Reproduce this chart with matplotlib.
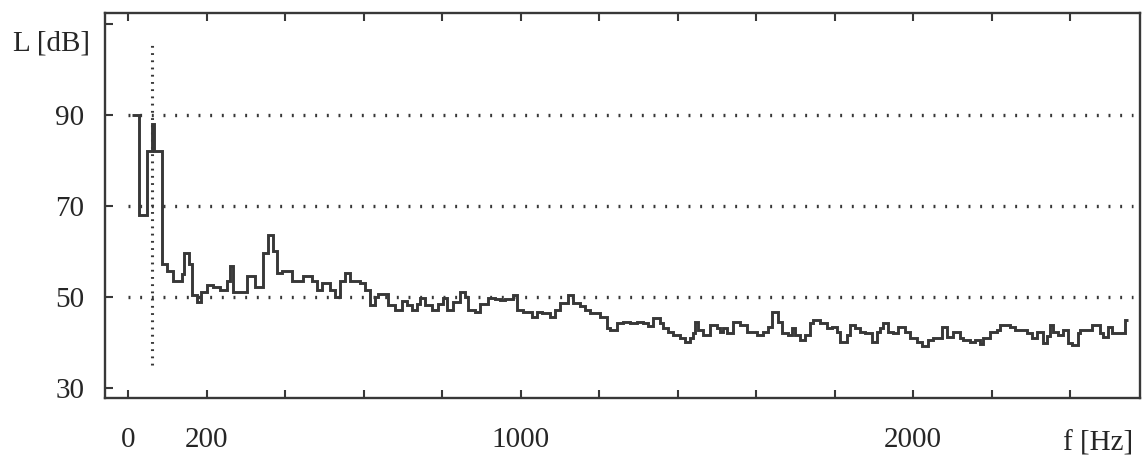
import numpy as np
import matplotlib
matplotlib.use("Agg")
import matplotlib.pyplot as plt

# step spectrum: start frequency of each run [Hz] and its level [dB]
run_start_hz = [
    10, 28, 48, 61, 66, 87, 99, 115, 138, 143, 155, 163, 176, 186, 201, 217, 234, 252,
    260, 268, 303, 324, 344, 357, 369, 380, 392, 418, 446, 469, 482, 494, 515, 527,
    540, 553, 566, 591, 604, 617, 629, 637, 662, 680, 698, 711, 724, 736, 744, 757,
    775, 790, 803, 813, 828, 846, 859, 866, 884, 897, 917, 935, 948, 961, 981, 991,
    1006, 1029, 1042, 1055, 1075, 1088, 1101, 1121, 1134, 1152, 1164, 1177, 1202,
    1220, 1228, 1246, 1261, 1279, 1297, 1312, 1325, 1338, 1356, 1363, 1376, 1389,
    1407, 1419, 1432, 1440, 1445, 1452, 1465, 1483, 1501, 1508, 1516, 1526, 1541,
    1559, 1577, 1603, 1618, 1631, 1641, 1656, 1666, 1682, 1692, 1700, 1712, 1725,
    1738, 1745, 1763, 1781, 1794, 1807, 1814, 1832, 1840, 1852, 1865, 1878, 1896,
    1908, 1916, 1924, 1936, 1949, 1962, 1980, 1993, 2010, 2023, 2038, 2051, 2074,
    2087, 2102, 2120, 2128, 2145, 2158, 2171, 2179, 2196, 2214, 2222, 2247, 2260,
    2291, 2303, 2316, 2331, 2342, 2349, 2357, 2370, 2382, 2395, 2405, 2421, 2426,
    2456, 2477, 2484, 2497, 2507, 2540,
]
run_level_db = [
    90, 68, 82, 88, 82, 57.3, 55.6, 53.4, 55, 59.7, 57.3, 50.4, 49.0, 51.0, 52.6, 52.3, 51.6, 53.4,
    56.9, 51.0, 54.5, 52.3, 59.6, 63.6, 60, 55.3, 55.6, 53.4, 54.5, 53.4, 51.5, 53, 51.5, 50,
    53.4, 55.3, 53.4, 53, 51.5, 48.2, 50, 50.6, 48.2, 47.1, 49.2, 48.2, 47.1, 48.5, 49.8, 48.2,
    47.1, 48.5, 49.8, 47.1, 48.8, 51.2, 50, 47.1, 46.8, 48.5, 49.8, 49.5, 49.3, 49.6, 50.4, 47.1,
    46.8, 45.7, 46.8, 46.4, 45.7, 47.1, 48.7, 50.4, 48.7, 48, 47.1, 46.4, 45.7,
    43.1, 42.7, 44.2, 44.5, 44.2, 44.6, 44.2, 43.6, 45.3, 44.2, 43.1, 42.4, 41.7,
    40.9, 40.2, 40.9, 42, 44.6, 42.7, 41.7, 43.8, 43.1, 42.4, 43.1, 42, 44.6,
    43.8, 42.4, 41.7, 42.4, 43.5, 46.8, 44.6, 42, 41.7, 43.1, 41.7, 40.5, 41.7,
    44.2, 44.9, 44.2, 43.1, 43.5, 42.4, 40.2, 41.7, 43.8, 43.1, 42.4, 42, 40.2,
    42.4, 43.1, 44.2, 42.4, 42, 43.5, 42.4, 40.9, 40.2, 39.2, 40.5, 40.9, 43.5,
    41.2, 42.4, 40.9, 40.5, 40.2, 40.5, 39.6, 40.9, 42.4, 42.7, 43.8, 43.5, 42.7,
    42, 40.9, 42.4, 39.8, 41.5, 43.8, 42.4, 41.7, 42.7, 39.8, 39.5, 42, 42.7,
    43.8, 42, 41.2, 43.5, 42, 45,
]
last_edge_hz = 2548

# dotted marker line and grid levels
marker_hz = 61
marker_span_db = (35, 106)
grid_db = [50, 70, 90]

x_ticks = [0, 200, 400, 600, 800, 1000, 1200, 1400, 1600, 1800, 2000, 2200, 2400]
x_labels = ["0", "200", "", "", "", "1000", "", "", "", "", "2000", "", ""]
y_ticks = [30, 50, 70, 90, 110]
y_labels = ["30", "50", "70", "90", ""]

plt.rcParams["font.family"] = ["Liberation Serif", "DejaVu Serif"]
plt.rcParams["lines.scale_dashes"] = False
ink = "#383838"
txt = "#262626"

fig = plt.figure(figsize=(11.46, 4.55), dpi=100)
ax = fig.add_axes([105 / 1146, 57 / 455, 1035 / 1146, 385 / 455])

edges = run_start_hz + [last_edge_hz]
ax.stairs(run_level_db, edges, baseline=None, color=ink, linewidth=2.1)

for g in grid_db:
    ax.hlines(g, 0, 2560, colors=ink, linewidth=2.4, linestyles=(0, (1.4, 7.0)))
ax.vlines(marker_hz, marker_span_db[0], marker_span_db[1], colors=ink,
          linewidth=2.2, linestyles=(0, (1.3, 3.9)))

ax.set_xlim(-58.6, 2578)
ax.set_ylim(27.8, 112.4)
ax.set_xticks(x_ticks)
ax.set_xticklabels(x_labels)
ax.set_yticks(y_ticks)
ax.set_yticklabels(y_labels)
ax.tick_params(axis="both", direction="in", length=6, width=1.5, colors=ink,
               labelsize=21, labelcolor=txt)
ax.tick_params(axis="x", top=True, pad=21)
ax.tick_params(axis="y", pad=15)
for s in ax.spines.values():
    s.set_color(ink)
    s.set_linewidth(1.7)

ax.text(-97, 105.6, "L [dB]", ha="right", va="center", fontsize=21,
        color=txt, clip_on=False)
ax.text(2470, 17.9, "f [Hz]", ha="center", va="center", fontsize=21,
        color=txt, clip_on=False)

fig.savefig("out.png", dpi=100)
